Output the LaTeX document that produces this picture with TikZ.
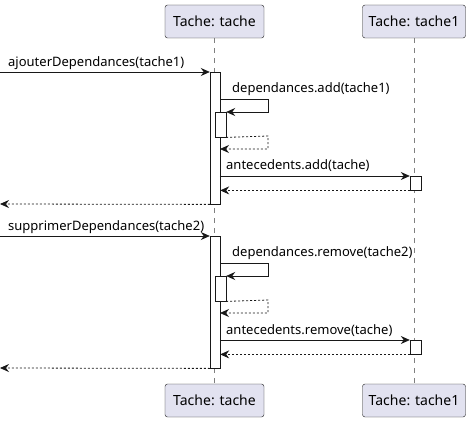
\documentclass[tikz,border=0pt]{standalone}
\usepackage{fontspec}
\setmainfont{Noto Sans}
\usetikzlibrary{arrows.meta}

\definecolor{boxfill}{HTML}{E2E2F0}
\definecolor{linecol}{HTML}{181818}

\tikzset{
	participant/.style={draw=linecol, fill=boxfill, rounded corners=2.5pt, minimum height=33pt, inner sep=0pt, font=\fontsize{14}{16}\selectfont},
	lifeline/.style={draw=gray, dash pattern=on 5pt off 5pt},
	activation/.style={draw=linecol, fill=white, inner sep=0pt, minimum width=10pt, anchor=north},
	msglabel/.style={font=\fontsize{13}{15}\selectfont, anchor=base west, inner sep=0pt},
	callarrow/.style={->, draw=linecol, line width=0.8pt},
	replyarrow/.style={->, draw=linecol, line width=0.8pt, dash pattern=on 2pt off 2pt}
}

\begin{document}
\begin{tikzpicture}[x=1pt,y=-1pt,>={Stealth[length=9pt,width=8pt,inset=3pt]}]
	\useasboundingbox (0,0) rectangle (474,422);
	% participants
	\node[participant, minimum width=99pt] (ptop) at (214.5,21.5) {Tache: tache};
	\node[participant, minimum width=103pt] (qtop) at (414,21.5) {Tache: tache1};
	\node[participant, minimum width=99pt] (pbot) at (214.5,400.5) {Tache: tache};
	\node[participant, minimum width=103pt] (qbot) at (414,400.5) {Tache: tache1};
	
	% lifelines
	\draw[lifeline] (ptop) -- (pbot);
	\draw[lifeline] (qtop) -- (qbot);
	
	% both calls
	\foreach \dy/\callin/\selfcall/\othercall in {0/ajouterDependances(tache1)/dependances.add(tache1)/antecedents.add(tache),164/supprimerDependances(tache2)/dependances.remove(tache2)/antecedents.remove(tache)}{
		% activations
		\node[activation, minimum height=132pt] (act\dy) at (215,72+\dy) {};
		\node[activation, minimum height=25pt, minimum width=11pt] (sub\dy) at (220.5,112+\dy) {};
		\node[activation, minimum height=14pt, minimum width=11pt] (oth\dy) at (415.5,176+\dy) {};
		% free ends and corners
		\coordinate (in\dy) at (0,72+\dy);
		\coordinate (out\dy) at (0,204+\dy);
		\coordinate (sa\dy) at (220,99+\dy);
		\coordinate (sb\dy) at (268,99+\dy);
		\coordinate (rb\dy) at (268,136+\dy);
		\coordinate (ra\dy) at (220,149+\dy);
		% incoming call
		\draw[callarrow] (in\dy) -- (act\dy.north west);
		\node[msglabel] (lin\dy) at (8,67+\dy) {\callin};
		% self call
		\draw[callarrow] (sa\dy) -- (sb\dy) |- (sub\dy.north east);
		\node[msglabel] (lself\dy) at (232,93+\dy) {\selfcall};
		\draw[replyarrow] (sub\dy.south east) -- (rb\dy) |- (ra\dy);
		% call to tache1
		\draw[callarrow] (act\dy.west |- oth\dy.north) ++(10,0) -- (oth\dy.north west);
		\node[msglabel] (loth\dy) at (226,170+\dy) {\othercall};
		\draw[replyarrow] (oth\dy.south west) -- (act\dy.east |- oth\dy.south);
		% return
		\draw[replyarrow] (act\dy.south west) -- (out\dy);
	}
\end{tikzpicture}
\end{document}
